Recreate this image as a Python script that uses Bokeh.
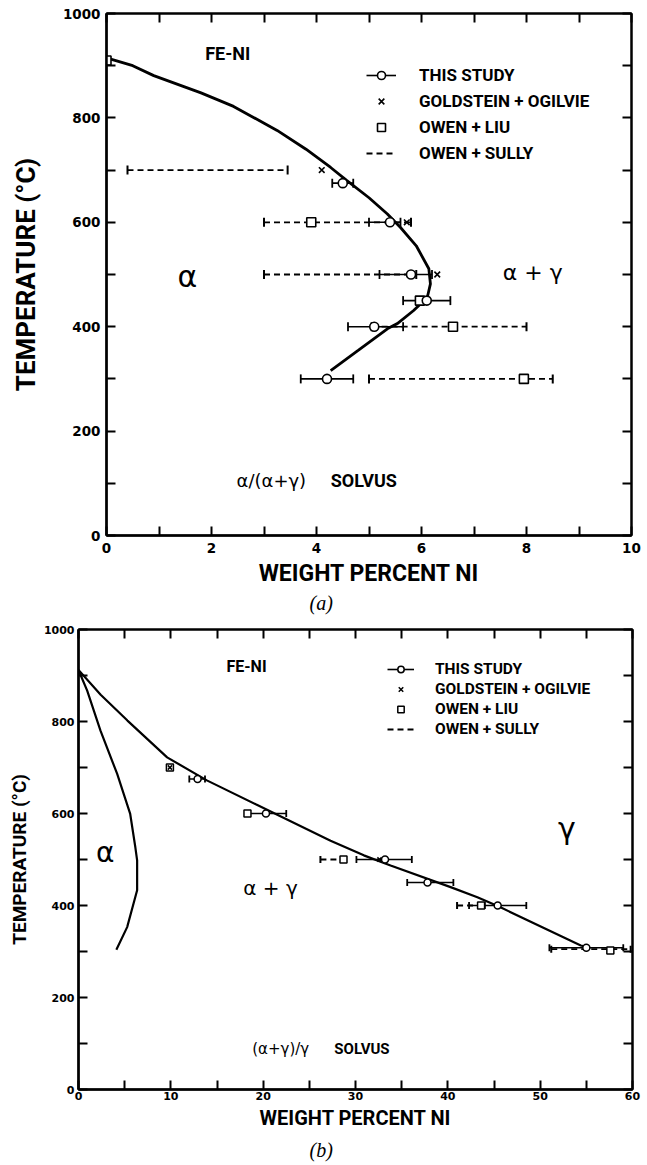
import numpy as np
from bokeh.plotting import figure
from bokeh.models import (Range1d, FixedTicker, LinearAxis, Label, Legend,
                          LegendItem, Title)
from bokeh.layouts import column
from bokeh.embed import file_html
from bokeh.resources import INLINE

# ---------------- panel (a): alpha / (alpha+gamma) solvus ----------------
a_study_T = [675, 600, 500, 450, 400, 300]
a_study_x = [4.5, 5.4, 5.8, 6.1, 5.1, 4.2]
a_study_lo = [4.3, 5.0, 5.2, 5.65, 4.6, 3.7]
a_study_hi = [4.7, 5.6, 6.2, 6.55, 5.65, 4.7]

a_gold_x = [4.1, 5.72, 6.3]
a_gold_T = [700, 600, 500]

a_liu_x = [0.0, 3.9, 5.97, 6.6, 7.95]
a_liu_T = [910, 600, 450, 400, 300]

a_sully_T = [700, 600, 500, 400, 300]
a_sully_lo = [0.4, 3.0, 3.0, 5.05, 5.0]
a_sully_hi = [3.45, 5.8, 5.9, 8.0, 8.5]

a_curve_x = [0.0, 0.5, 0.9, 1.8, 2.42, 3.25, 3.8, 4.27, 4.58, 5.0, 5.35, 5.6,
             5.9, 6.14, 6.17, 6.11, 5.85, 5.54, 5.35, 4.8, 4.27]
a_curve_T = [915, 900, 881, 848, 822, 776, 740, 705, 680, 647, 616, 590,
             555, 511, 482, 456, 431, 406, 396, 355, 316]

a_xticks = [0, 2, 4, 6, 8, 10]
a_xminor = [1, 3, 5, 7, 9]

# ---------------- panel (b): (alpha+gamma) / gamma solvus ----------------
b_study_T = [675, 600, 500, 450, 400, 308]
b_study_x = [12.9, 20.3, 33.2, 37.8, 45.4, 55.0]
b_study_lo = [12.0, 18.5, 30.1, 35.6, 42.3, 51.0]
b_study_hi = [13.7, 22.5, 36.1, 40.6, 48.5, 59.0]

b_gold_x = [9.9, 32.6]
b_gold_T = [700, 500]

b_liu_x = [9.9, 18.3, 28.7, 43.6, 57.6]
b_liu_T = [700, 600, 500, 400, 302]

b_sully_T = [500, 400, 305]
b_sully_lo = [26.2, 41.0, 51.2]
b_sully_hi = [28.7, 44.0, 59.8]

b_gamma_x = [0.0, 2.4, 5.3, 9.6, 13.9, 19.2, 27.3, 30.9, 33.8, 40.3, 43.2,
             45.7, 54.4, 55.0]
b_gamma_T = [912, 858, 802, 722, 672, 620, 541, 509, 487, 440, 418,
             396, 313, 310]

b_alpha_x = [0.0, 0.94, 2.38, 4.19, 5.6, 6.16, 6.35, 6.35, 5.27, 4.1]
b_alpha_T = [912, 867, 780, 686, 599, 526, 498, 433, 353, 304]

b_xticks = [0, 10, 20, 30, 40, 50, 60]
b_xminor = [5, 15, 25, 35, 45, 55]

yticks = [0, 200, 400, 600, 800, 1000]
yminor = [100, 300, 500, 700, 900]

legend_labels = ["THIS STUDY", "GOLDSTEIN + OGILVIE", "OWEN + LIU", "OWEN + SULLY"]

LABEL_FONT = "Roboto"
DIGITS = "DejaVu Sans"
GREEK = "DejaVu Sans"


def style_axis(ax, ticks, minor, size, labels=True, width=2.5):
    ax.ticker = FixedTicker(ticks=ticks, minor_ticks=minor)
    ax.major_tick_in = 9
    ax.major_tick_out = 0
    ax.minor_tick_in = 9
    ax.minor_tick_out = 0
    ax.major_tick_line_width = 2
    ax.minor_tick_line_width = 2
    ax.axis_line_width = width
    ax.axis_line_color = "black"
    ax.major_tick_line_color = "black"
    ax.minor_tick_line_color = "black"
    ax.major_label_text_font = DIGITS
    ax.major_label_text_font_style = "bold"
    ax.major_label_text_color = "black"
    if labels:
        ax.major_label_text_font_size = size
    else:
        ax.major_label_text_font_size = "0px"
        ax.major_label_overrides = {t: "" for t in ticks}
        ax.major_label_standoff = 0


def make_fig(h, xr, xticks, xminor, border, tick_size, xlab_size, ylab_size,
             lab_stand, tick_stand_x, tick_stand_y):
    p = figure(width=647, height=h, x_range=Range1d(*xr), y_range=Range1d(0, 1000),
               output_backend="svg", toolbar_location=None,
               min_border_left=border[0], min_border_right=border[1],
               min_border_top=border[2], min_border_bottom=border[3])
    p.frame_align = False
    p.grid.visible = False
    p.outline_line_color = "black"
    p.outline_line_width = 2
    p.background_fill_color = "white"
    p.border_fill_color = "white"
    xax = p.xaxis[0]
    yax = p.yaxis[0]
    style_axis(xax, xticks, xminor, tick_size)
    style_axis(yax, yticks, yminor, tick_size)
    xax.major_label_standoff = tick_stand_x
    yax.major_label_standoff = tick_stand_y
    xax.axis_label = "WEIGHT PERCENT NI"
    yax.axis_label = "TEMPERATURE (°C)"
    for ax, sz in ((xax, xlab_size), (yax, ylab_size)):
        ax.axis_label_text_font = LABEL_FONT
        ax.axis_label_text_font_style = "bold"
        ax.axis_label_text_font_size = sz
        ax.axis_label_text_color = "black"
    xax.axis_label_standoff = lab_stand[0]
    yax.axis_label_standoff = lab_stand[1]
    top = LinearAxis()
    style_axis(top, xticks, xminor, tick_size, labels=False, width=2)
    p.add_layout(top, "above")
    right = LinearAxis()
    style_axis(right, yticks, yminor, tick_size, labels=False, width=2)
    p.add_layout(right, "right")
    return p


def draw_data(p, st_T, st_x, st_lo, st_hi, g_x, g_T, l_x, l_T, s_T, s_lo, s_hi,
              msize, cap, lw):
    sully = p.segment(x0=s_lo, y0=s_T, x1=s_hi, y1=s_T, line_dash="6 4",
                      line_width=1.8, line_color="black")
    p.scatter(x=list(s_lo) + list(s_hi), y=list(s_T) + list(s_T), marker="dash",
              angle=np.pi / 2, size=cap, line_width=2, line_color="black")
    study_bar = p.segment(x0=st_lo, y0=st_T, x1=st_hi, y1=st_T,
                          line_width=1.6, line_color="black")
    p.scatter(x=list(st_lo) + list(st_hi), y=list(st_T) + list(st_T), marker="dash",
              angle=np.pi / 2, size=cap, line_width=1.8, line_color="black")
    liu = p.scatter(x=l_x, y=l_T, marker="square", size=msize, fill_color="white",
                    line_color="black", line_width=lw)
    gold = p.scatter(x=g_x, y=g_T, marker="x", size=msize - 1, line_color="black",
                     line_width=lw)
    circ = p.scatter(x=st_x, y=st_T, marker="circle", size=msize, fill_color="white",
                     line_color="black", line_width=lw)
    return [study_bar, circ], gold, liu, sully


def add_legend(p, rends, loc, font_size, gw, gh, spacing, standoff):
    study, gold, liu, sully = rends
    items = [LegendItem(label=legend_labels[0], renderers=study),
             LegendItem(label=legend_labels[1], renderers=[gold]),
             LegendItem(label=legend_labels[2], renderers=[liu]),
             LegendItem(label=legend_labels[3], renderers=[sully])]
    leg = Legend(items=items, location=loc, glyph_width=gw, glyph_height=gh,
                 label_height=gh, spacing=spacing, padding=0, margin=0,
                 label_standoff=standoff, border_line_color=None,
                 background_fill_alpha=0, label_text_font=LABEL_FONT,
                 label_text_font_style="bold", label_text_font_size=font_size,
                 label_text_color="black")
    p.add_layout(leg, "center")


def lab(p, x, y, text, size, font=LABEL_FONT, style="bold"):
    p.add_layout(Label(x=x, y=y, text=text, text_font=font, text_font_style=style,
                       text_font_size=size, text_align="center",
                       text_baseline="middle", text_color="black"))


# ---------------- figure (a) ----------------
p1 = make_fig(617, (0, 10), a_xticks, a_xminor, (106, 16, 13, 82), "13.5px", "23px",
              "26px", (4, 19), 7, 6)
p1.line(a_curve_x, a_curve_T, line_width=2.8, line_color="black")
r1 = draw_data(p1, a_study_T, a_study_x, a_study_lo, a_study_hi, a_gold_x, a_gold_T,
               a_liu_x, a_liu_T, a_sully_T, a_sully_lo, a_sully_hi, 9, 9, 1.6)
add_legend(p1, r1, (260, 372), "17px", 30, 20, 6, 23)
lab(p1, 2.31, 924, "FE-NI", "18px")
lab(p1, 1.54, 496, "α", "30px", GREEK, "normal")
lab(p1, 8.12, 504, "α + γ", "22px", GREEK, "normal")
lab(p1, 3.14, 105, "α/(α+γ)", "18px", GREEK, "normal")
lab(p1, 4.9, 105, "SOLVUS", "18px")
p1.add_layout(Title(text="(a)", align="left", offset=203, text_font="Liberation Serif",
                    text_font_style="italic", text_font_size="20px",
                    text_color="black", standoff=0), "below")

# ---------------- figure (b) ----------------
p2 = make_fig(548, (0, 60), b_xticks, b_xminor, (78, 15, 12, 76), "11px", "20px",
              "19px", (3, 10), 2, 4)
p2.line(b_gamma_x, b_gamma_T, line_width=2.2, line_color="black")
p2.line(b_alpha_x, b_alpha_T, line_width=2.2, line_color="black")
r2 = draw_data(p2, b_study_T, b_study_x, b_study_lo, b_study_hi, b_gold_x, b_gold_T,
               b_liu_x, b_liu_T, b_sully_T, b_sully_lo, b_sully_hi, 7, 7, 1.5)
add_legend(p2, r2, (309, 351), "15.5px", 27, 16, 2, 21)
lab(p2, 18.2, 920, "FE-NI", "16px")
lab(p2, 2.9, 516, "α", "28px", GREEK, "normal")
lab(p2, 20.8, 437, "α + γ", "20px", GREEK, "normal")
lab(p2, 52.9, 567, "γ", "30px", GREEK, "normal")
lab(p2, 21.9, 89, "(α+γ)/γ", "15px", GREEK, "normal")
lab(p2, 30.7, 89, "SOLVUS", "15px")
p2.add_layout(Title(text="(b)", align="left", offset=231, text_font="Liberation Serif",
                    text_font_style="italic", text_font_size="20px",
                    text_color="black", standoff=8), "below")

layout = column(p1, p2, spacing=0)
open("out.html", "w").write(file_html(layout, INLINE))
